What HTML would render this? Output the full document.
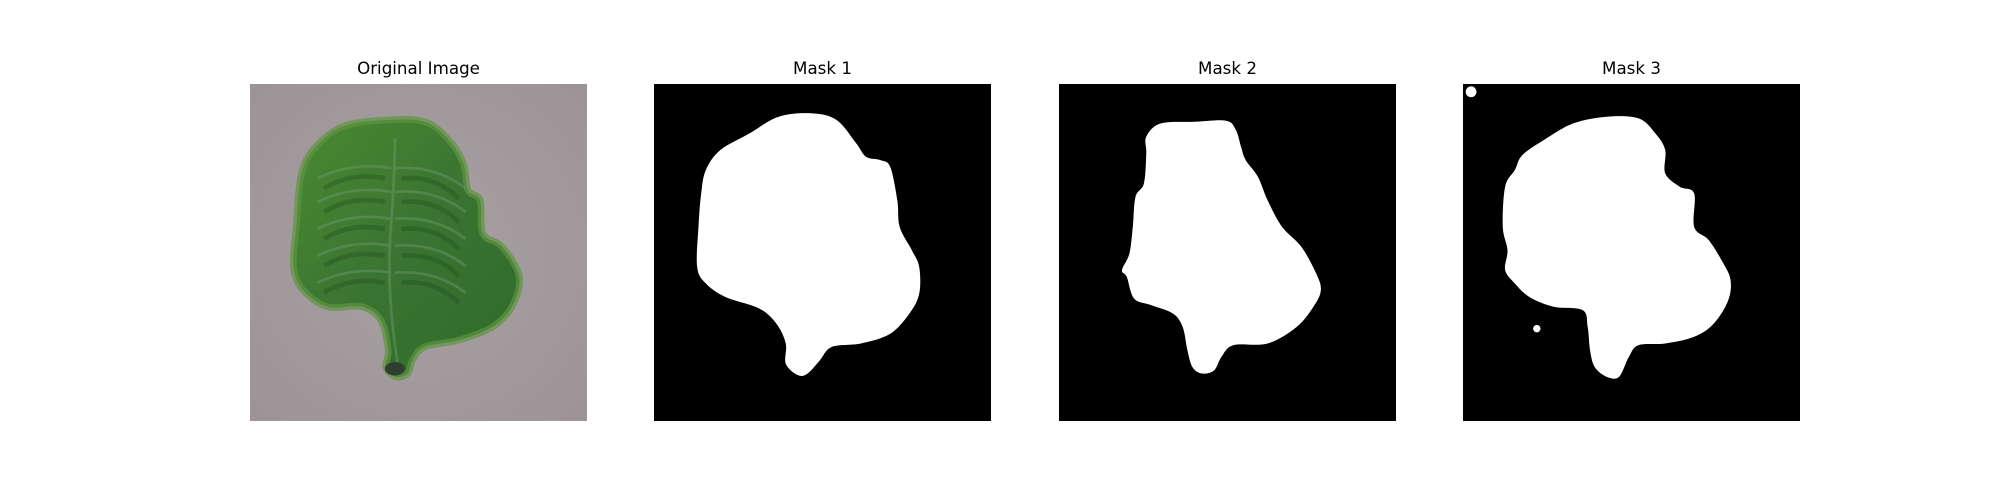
<!DOCTYPE html>
<html><head><meta charset="utf-8"><style>
html,body{margin:0;padding:0;background:#fff;}
#fig{position:relative;width:2000px;height:500px;overflow:hidden;font-family:"DejaVu Sans","Liberation Sans",sans-serif;}
.title{position:absolute;top:58px;width:337px;text-align:center;font-size:16.7px;color:#000;}
svg.panel{position:absolute;top:84px;width:337px;height:337px;}
</style></head><body>
<div id="fig">
 <div class="title" style="left:250px">Original Image</div>
 <div class="title" style="left:654px">Mask 1</div>
 <div class="title" style="left:1059px">Mask 2</div>
 <div class="title" style="left:1463px">Mask 3</div>

 <svg class="panel" style="left:250px" viewBox="0 0 1 1" preserveAspectRatio="none">
  <defs>
   <radialGradient id="bg" cx="0.5" cy="0.5" r="0.75"><stop offset="0" stop-color="#a8a0a3"/><stop offset="1" stop-color="#9c9396"/></radialGradient>
   <linearGradient id="lg" x1="0" y1="0" x2="1" y2="1"><stop offset="0" stop-color="#4a8a30"/><stop offset="0.5" stop-color="#3a7432"/><stop offset="1" stop-color="#2f6a2a"/></linearGradient>
  </defs>
  <rect width="1" height="1" fill="url(#bg)"/>
  <path id="leaf" fill="url(#lg)" stroke="#5e9440" stroke-width="0.02" stroke-opacity="0.7"/>
  <path id="veins" fill="none" stroke="#6f9a72" stroke-width="0.008" opacity="0.45"/>
  <path id="darkveins" fill="none" stroke="#1f4a20" stroke-width="0.014" opacity="0.35"/>
  <ellipse cx="0.43" cy="0.845" rx="0.03" ry="0.02" fill="#2f3f2f"/>
 </svg>
 <svg class="panel" style="left:654px" viewBox="0 0 1 1" preserveAspectRatio="none">
  <rect width="1" height="1" fill="#000"/><path id="m1" fill="#fff"/>
 </svg>
 <svg class="panel" style="left:1059px" viewBox="0 0 1 1" preserveAspectRatio="none">
  <rect width="1" height="1" fill="#000"/><path id="m2" fill="#fff"/>
 </svg>
 <svg class="panel" style="left:1463px" viewBox="0 0 1 1" preserveAspectRatio="none">
  <rect width="1" height="1" fill="#000"/><path id="m3" fill="#fff"/>
  <circle cx="0.024" cy="0.023" r="0.016" fill="#fff"/>
  <circle cx="0.219" cy="0.726" r="0.011" fill="#fff"/>
  <circle cx="0.190" cy="0.587" r="0.007" fill="#fff"/>
 </svg>
</div>
<script>
const leafPts=[[.273,.127],[.403,.107],[.518,.112],[.590,.166],[.633,.236],[.647,.315],[.683,.345],[.691,.444],[.748,.483],[.799,.572],[.777,.661],[.719,.721],[.619,.760],[.518,.780],[.482,.820],[.468,.859],[.432,.869],[.403,.840],[.410,.790],[.388,.701],[.331,.661],[.230,.661],[.158,.612],[.129,.543],[.137,.424],[.151,.275],[.187,.196]];
const mask1Pts=[[.470,.087],[.370,.097],[.283,.147],[.197,.196],[.154,.255],[.140,.325],[.132,.424],[.128,.543],[.154,.592],[.212,.632],[.312,.666],[.363,.711],[.391,.770],[.391,.830],[.427,.864],[.456,.859],[.492,.820],[.528,.780],[.614,.770],[.701,.741],[.758,.681],[.787,.622],[.787,.543],[.765,.493],[.729,.424],[.722,.345],[.701,.246],[.672,.226],[.629,.216],[.600,.176],[.542,.107]];
const mask2Pts=[[.302,.117],[.403,.112],[.496,.109],[.525,.137],[.540,.186],[.554,.226],[.590,.275],[.619,.345],[.662,.424],[.719,.483],[.763,.562],[.777,.612],[.755,.661],[.705,.721],[.619,.770],[.518,.775],[.482,.810],[.460,.850],[.424,.859],[.396,.840],[.381,.790],[.367,.721],[.338,.681],[.273,.656],[.223,.637],[.201,.572],[.187,.552],[.209,.503],[.219,.424],[.227,.335],[.252,.295],[.259,.206],[.259,.156]];
const mask3Pts=[[.427,.097],[.521,.102],[.571,.147],[.600,.196],[.600,.265],[.643,.305],[.686,.325],[.686,.424],[.729,.463],[.773,.533],[.794,.582],[.787,.642],[.744,.711],[.686,.750],[.600,.770],[.521,.775],[.492,.810],[.463,.869],[.427,.869],[.391,.840],[.377,.790],[.370,.721],[.355,.671],[.269,.661],[.197,.632],[.154,.592],[.125,.552],[.132,.493],[.118,.424],[.125,.305],[.154,.255],[.176,.211],[.240,.166],[.327,.117]];
function smooth(p){
  let n=p.length,d='M'+p[0][0]+','+p[0][1];
  for(let i=0;i<n;i++){
    const p0=p[(i-1+n)%n],p1=p[i],p2=p[(i+1)%n],p3=p[(i+2)%n];
    const c1=[p1[0]+(p2[0]-p0[0])/6,p1[1]+(p2[1]-p0[1])/6];
    const c2=[p2[0]-(p3[0]-p1[0])/6,p2[1]-(p3[1]-p1[1])/6];
    d+=' C'+c1.join(',')+' '+c2.join(',')+' '+p2.join(',');
  }
  return d+'Z';
}
document.getElementById('leaf').setAttribute('d',smooth(leafPts));
document.getElementById('m1').setAttribute('d',smooth(mask1Pts));
document.getElementById('m2').setAttribute('d',smooth(mask2Pts));
document.getElementById('m3').setAttribute('d',smooth(mask3Pts));
let v='M0.44,0.84 Q0.40,0.6 0.42,0.4 Q0.43,0.25 0.43,0.16';
const veinY=[0.25,0.32,0.40,0.48,0.56];
veinY.forEach(y=>{v+=` M0.42,${y} Q0.30,${y-0.02} 0.20,${y+0.03} M0.43,${y} Q0.55,${y-0.01} 0.64,${y+0.06}`;});
document.getElementById('veins').setAttribute('d',v);
let dv='';
veinY.forEach(y=>{dv+=` M0.40,${y+0.03} Q0.30,${y+0.01} 0.22,${y+0.06} M0.45,${y+0.03} Q0.55,${y+0.02} 0.62,${y+0.09}`;});
document.getElementById('darkveins').setAttribute('d',dv);
</script>
</body></html>
